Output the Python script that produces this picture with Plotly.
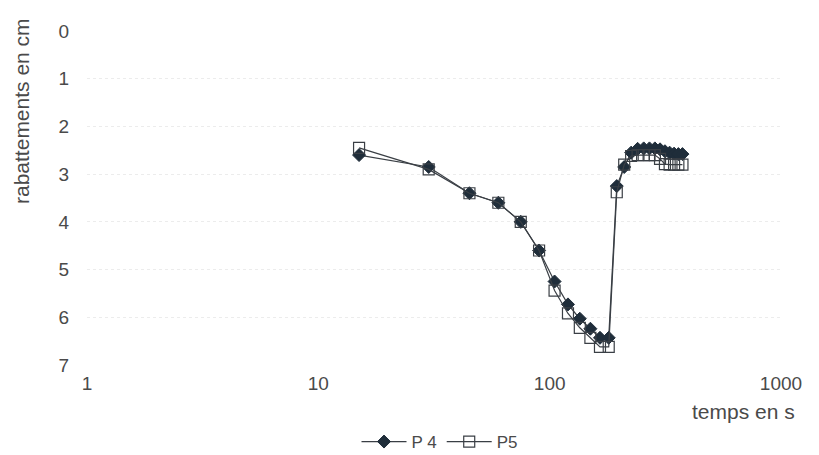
import plotly.graph_objects as go

times = [15, 30, 45, 60, 75, 90, 105, 120, 135, 150, 165, 180,
         195, 210, 225, 240, 255, 270, 285, 300, 315, 330, 345, 360, 375]
p4 = [2.6, 2.85, 3.4, 3.6, 4.0, 4.6, 5.25, 5.73, 6.03, 6.24, 6.43, 6.43,
      3.25, 2.85, 2.55, 2.47, 2.46, 2.46, 2.46, 2.48, 2.52, 2.55, 2.57, 2.58, 2.58]
p5 = [2.45, 2.9, 3.4, 3.6, 4.0, 4.6, 5.44, 5.92, 6.22, 6.43, 6.62, 6.62,
      3.38, 2.8, 2.62, 2.6, 2.6, 2.6, 2.6, 2.68, 2.79, 2.8, 2.8, 2.8, 2.8]

x_ticks = [1, 10, 100, 1000]
x_tick_labels = ["1", "10", "100", "1000"]
y_ticks = [0, 1, 2, 3, 4, 5, 6, 7]

FONT = "Liberation Sans, Arial, sans-serif"
TXT = "#4a4a4a"
W, H = 819, 455
L, R, T, B = 79, 46, 23, 98
PW, PH = W - L - R, H - T - B

fig = go.Figure()
fig.add_trace(go.Scatter(
    x=times, y=p4, name="P 4", mode="lines+markers",
    line=dict(color="#3a3f45", width=1.2),
    marker=dict(symbol="diamond", size=10, color="#1f2d3a",
                line=dict(color="#1f2d3a", width=1)),
))
fig.add_trace(go.Scatter(
    x=times, y=p5, name="P5", mode="lines+markers",
    line=dict(color="#3a3f45", width=1.2),
    marker=dict(symbol="square-open", size=11, color="#3a3f45",
                line=dict(width=1.2)),
))

fig.update_layout(
    width=W, height=H,
    margin=dict(l=L, r=R, t=T, b=B, autoexpand=False),
    paper_bgcolor="white", plot_bgcolor="white",
    font=dict(family=FONT, size=19, color=TXT),
    showlegend=True,
    legend=dict(orientation="h", xref="container", x=432 / W, xanchor="center",
                yref="container", y=(H - 434) / H, yanchor="middle",
                font=dict(size=17, color=TXT), itemwidth=45,
                bgcolor="rgba(0,0,0,0)", tracegroupgap=0),
    xaxis=dict(type="log", range=[0, 3], tickvals=x_ticks, ticktext=x_tick_labels,
               showgrid=False, zeroline=False, showline=False, ticks="",
               ticklabelstandoff=5, automargin=False),
    yaxis=dict(range=[7, 0], tickvals=y_ticks, showgrid=True,
               gridcolor="#ececec", griddash="dot", gridwidth=1,
               zeroline=False, showline=False, ticks="", ticklabelstandoff=17,
               automargin=False),
    annotations=[
        dict(text="rabattements en cm", textangle=-90,
             x=(13 - L) / PW, y=(H - B - 103) / PH,
             xref="paper", yref="paper", xanchor="center", yanchor="middle",
             showarrow=False, font=dict(size=21, color=TXT)),
        dict(text="temps en s",
             x=(789 - L) / PW, y=(H - B - 403) / PH,
             xref="paper", yref="paper", xanchor="right", yanchor="middle",
             showarrow=False, font=dict(size=21, color=TXT)),
    ],
)
fig.write_html("out.html")
